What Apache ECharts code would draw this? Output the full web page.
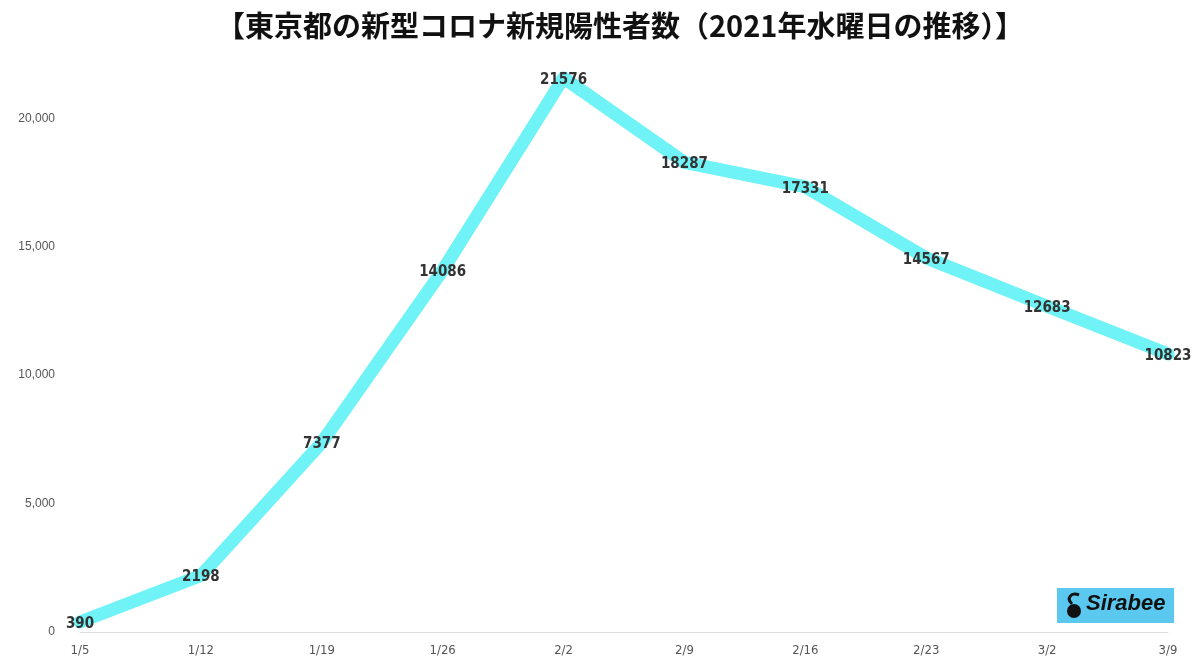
<!DOCTYPE html>
<html><head><meta charset="utf-8">
<script src="https://cdn.jsdelivr.net/npm/echarts@6/dist/echarts.min.js"></script>
<style>html,body{margin:0;padding:0;background:#fff}#c{width:1200px;height:667px}</style>
</head><body><div id="c"></div>
<script>
const categories = ['1/5','1/12','1/19','1/26','2/2','2/9','2/16','2/23','3/2','3/9'];
const cases = [390, 2198, 7377, 14086, 21576, 18287, 17331, 14567, 12683, 10823];
const titleText = '【東京都の新型コロナ新規陽性者数（2021年水曜日の推移）】';
const yTicks = [0, 5000, 10000, 15000, 20000];

const chart = echarts.init(document.getElementById('c'));
chart.setOption({
  backgroundColor: '#fff',
  animation: false,
  title: {
    text: titleText, left: 211, top: 6,
    textStyle: {fontFamily: 'Noto Sans CJK JP', fontWeight: 'bold', fontSize: 29, color: '#111'}
  },
  grid: {left: 80, right: 32, top: 67, bottom: 35},
  xAxis: {
    type: 'category', data: categories, boundaryGap: false,
    axisLine: {lineStyle: {color: '#dcdcdc', width: 1}},
    axisTick: {show: false},
    axisLabel: {color: '#555', fontSize: 13, margin: 12, fontFamily: 'DejaVu Sans Condensed, Liberation Sans, sans-serif'}
  },
  yAxis: {
    type: 'value', min: 0, max: 22000, interval: 5000,
    splitLine: {show: false}, axisLine: {show: false}, axisTick: {show: false},
    axisLabel: {
      color: '#555', fontSize: 12, margin: 25, fontFamily: 'Liberation Sans, sans-serif',
      formatter: v => yTicks.includes(v) ? v.toLocaleString('en-US') : ''
    }
  },
  series: [{
    type: 'line', data: cases,
    symbol: 'circle', symbolSize: 2,
    itemStyle: {color: '#6ff3f7'},
    lineStyle: {color: '#6ff3f7', width: 13, cap: 'round', join: 'round'},
    label: {
      show: true, position: 'inside', offset: [0, 2], color: '#333', fontSize: 15, fontWeight: 'bold',
      fontFamily: 'DejaVu Sans Condensed, Liberation Sans, sans-serif'
    }
  }],
  graphic: [
    {type: 'rect', shape: {x: 1057, y: 588, width: 117, height: 35}, style: {fill: '#5bc8f0'}},
    {type: 'circle', shape: {cx: 1074, cy: 611, r: 7}, style: {fill: '#111'}},
    {type: 'bezierCurve', shape: {x1: 1072, y1: 604, x2: 1079, y2: 595, cpx1: 1066, cpy1: 598, cpx2: 1071, cpy2: 592}, style: {stroke: '#111', lineWidth: 3, fill: null}},
    {type: 'text', x: 1086, y: 593, style: {text: 'Sirabee', fill: '#111', fontStyle: 'italic', fontWeight: 'bold', fontSize: 22, fontFamily: 'Liberation Sans'}}
  ]
});
</script></body></html>
